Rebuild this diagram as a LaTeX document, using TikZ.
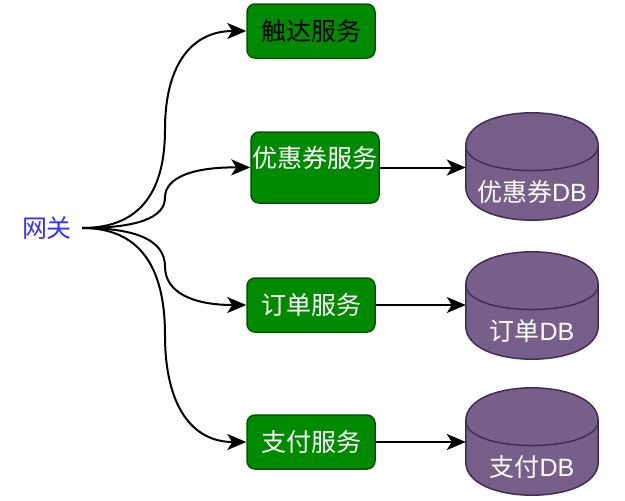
\documentclass[tikz,border=0pt]{standalone}
\usepackage{fontspec}
\setmainfont{Liberation Sans}
\newfontfamily\cjk{Noto Sans CJK SC}
\usetikzlibrary{arrows.meta,calc,backgrounds}
\definecolor{boxfill}{HTML}{008A00}
\definecolor{boxline}{HTML}{005700}
\definecolor{dbfill}{HTML}{76608A}
\definecolor{dbline}{HTML}{432D57}
\definecolor{gwblue}{HTML}{3333FF}
\newcommand\drawcyl[1]{%
  \filldraw[fill=dbfill,draw=dbline,line width=1.5pt]
    let \p1=(#1.north west), \p2=(#1.south east) in
    (\x1,\y1-33pt) .. controls (\x1,\y1+11pt) and (\x2,\y1+11pt) .. (\x2,\y1-33pt)
    -- (\x2,\y2+33pt) .. controls (\x2,\y2-11pt) and (\x1,\y2-11pt) .. (\x1,\y2+33pt) -- cycle;
  \draw[draw=dbline,line width=1.5pt]
    let \p1=(#1.north west), \p2=(#1.south east) in
    (\x1,\y1-33pt) .. controls (\x1,\y1-66pt) and (\x2,\y1-66pt) .. (\x2,\y1-33pt);
}
\tikzset{
  svcbox/.style={draw=boxline, fill=boxfill, line width=1.5pt, rounded corners=8pt,
    minimum width=128pt, minimum height=54pt, inner sep=0pt, text=white,
    font=\fontsize{25}{29}\selectfont},
  dbnode/.style={minimum width=132pt, minimum height=107pt, inner sep=0pt, text=white,
    text height=69pt, text depth=0pt,
    font=\fontsize{25}{29}\selectfont},
  conn/.style={line width=2pt, -{Stealth[length=19pt,width=16pt,inset=5pt]}},
}
\begin{document}
\begin{tikzpicture}[x=1pt,y=-1pt]
\useasboundingbox (0,0) rectangle (625,501);
% gateway
\node[minimum width=70pt, inner sep=0pt, text=gwblue, font=\fontsize{25}{29}\selectfont] (gw) at (47,228) {\cjk 网关};
% services
\node[svcbox, text=black] (b1) at (311,31) {\cjk 触达服务};
\node[svcbox, minimum height=71pt, text height=0pt, text depth=1pt] (b2) at (315,167.5) {\cjk 优惠券服务};
\node[svcbox] (b3) at (311,305) {\cjk 订单服务};
\node[svcbox] (b4) at (311,442) {\cjk 支付服务};
% databases
\node[dbnode] (db1) at (532,166.5) {{\cjk 优惠券}DB};
\node[dbnode] (db2) at (532,305.5) {{\cjk 订单}DB};
\node[dbnode] (db3) at (532,441.5) {{\cjk 支付}DB};
\begin{scope}[on background layer]
  \drawcyl{db1}
  \drawcyl{db2}
  \drawcyl{db3}
\end{scope}
% bend points
\coordinate (m1) at (165,129.5);
\coordinate (m2) at (165,197.5);
\coordinate (m3) at (165,266.5);
\coordinate (m4) at (165,335);
% curved connectors
\draw[conn] (gw.east) .. controls (137.3,228) and (165,195.2) .. (m1)
  .. controls (165,63.8) and (192.3,31) .. (b1.west);
\draw[conn] (gw.east) .. controls (137.3,228) and (165,217.8) .. (m2)
  .. controls (165,177.2) and (193.7,167) .. (b2.west);
\draw[conn] (gw.east) .. controls (137.3,228) and (165,240.8) .. (m3)
  .. controls (165,292.2) and (192.3,305) .. (b3.west);
\draw[conn] (gw.east) .. controls (137.3,228) and (165,263.7) .. (m4)
  .. controls (165,406.3) and (192.3,442) .. (b4.west);
% straight connectors
\draw[conn] (b2.east) -- (b2.east -| db1.west);
\draw[conn] (b3.east) -- (b3.east -| db2.west);
\draw[conn] (b4.east) -- (b4.east -| db3.west);
\end{tikzpicture}
\end{document}
